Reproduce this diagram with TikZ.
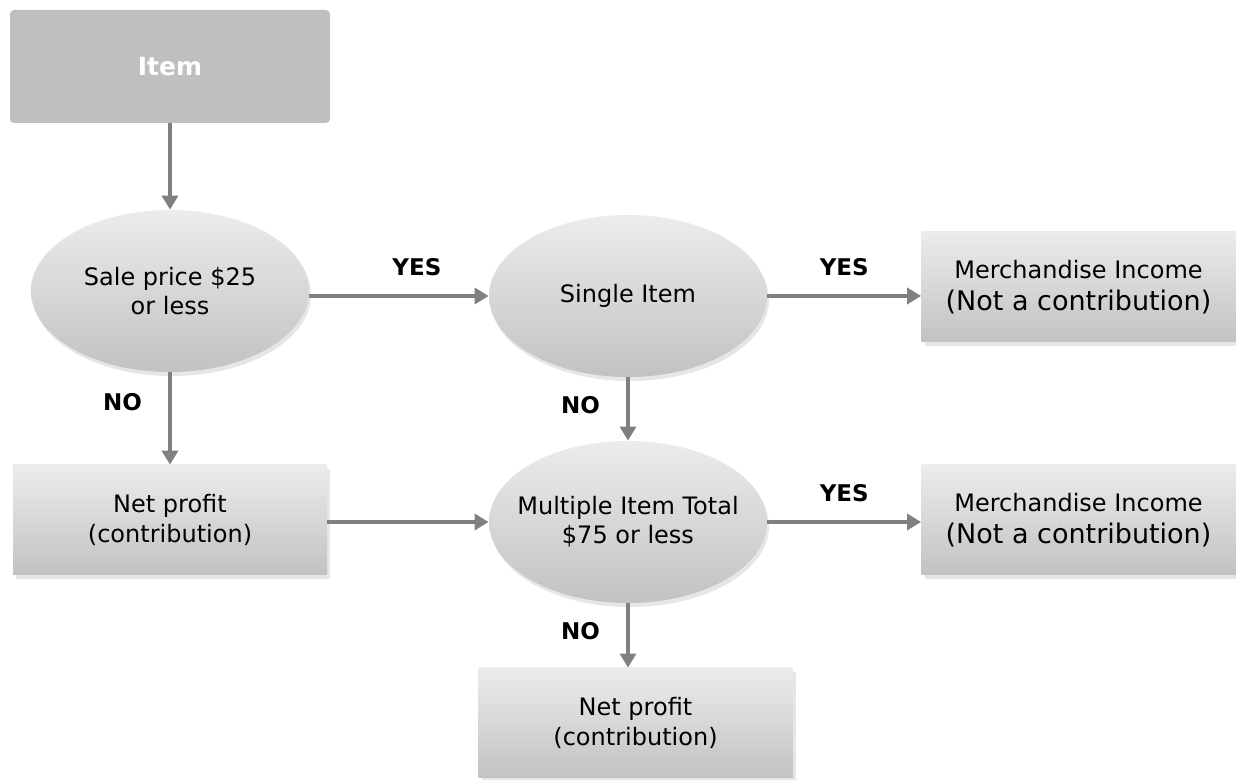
\documentclass[tikz,border=0pt]{standalone}
\usepackage{fontspec}
\setmainfont{DejaVu Sans}
\usepackage{tikz}
\usetikzlibrary{positioning,arrows.meta,shapes.geometric,shadows}
\definecolor{itemgrey}{RGB}{191,191,191}
\definecolor{shadetop}{RGB}{236,236,236}
\definecolor{shadebot}{RGB}{194,194,194}
\definecolor{arrgrey}{RGB}{128,128,128}
\tikzset{
  itembox/.style={fill=itemgrey, rounded corners=2pt, text=white,
                  font=\fontsize{12.5}{14.5}\selectfont\bfseries,
                  minimum width=160pt, minimum height=56.5pt},
  qnode/.style  ={ellipse, top color=shadetop, bottom color=shadebot, align=center,
                  font=\fontsize{12}{14.5}\selectfont, inner xsep=-10pt, inner ysep=0pt,
                  minimum width=139pt, minimum height=81pt,
                  drop shadow={shadow xshift=1pt, shadow yshift=-2pt, opacity=0.2}},
  resbox/.style ={rectangle, top color=shadetop, bottom color=shadebot, align=center,
                  font=\fontsize{12}{15}\selectfont, minimum width=157pt, minimum height=55pt,
                  drop shadow={shadow xshift=1.5pt, shadow yshift=-2pt, opacity=0.2}},
  arr/.style    ={-{Triangle[length=7pt,width=8pt]}, draw=arrgrey, line width=2pt},
  lbl/.style    ={font=\fontsize{11.5}{13}\selectfont\bfseries, inner sep=0pt},
}
\begin{document}
\begin{tikzpicture}[x=0.5pt,y=0.5pt]
\useasboundingbox (0,0) rectangle (1236,780);

% start
\node[itembox] (item) at (170,713.5) {Item};

% questions
\node[qnode] (sale)   at (170,489) {Sale price \$25\\or less};
\node[qnode] (single) at (628,484) {Single Item};
\node[qnode] (multi)  at (628,258) {Multiple Item Total\\\$75 or less};

% outcomes
\node[resbox] (merch1) at (1078.5,493) {Merchandise Income\\[1pt]{\fontsize{13.5}{16}\selectfont (Not a contribution)}};
\node[resbox] (merch2) at (1078.5,260) {Merchandise Income\\[1pt]{\fontsize{13.5}{16}\selectfont (Not a contribution)}};
\node[resbox] (netL)   at (170,260)    {Net profit\\(contribution)};
\node[resbox] (netB)   at (635.5,57)   {Net profit\\(contribution)};

% connectors
\draw[arr] (item.south) -- (sale.north);
\draw[arr] (sale.east |- single.west) -- (single.west)
   node[lbl,pos=0.6,above=9pt] (yes1) {YES};
\draw[arr] (single.east) -- (single.east -| merch1.west)
   node[lbl,midway,above=9pt] (yes2) {YES};
\draw[arr] (sale.south) -- (netL.north)
   node[lbl,pos=0.32,left=13pt] (no1) {NO};
\draw[arr] (single.south) -- (multi.north)
   node[lbl,pos=0.44,left=13pt] (no2) {NO};
\draw[arr] (netL.east |- multi.west) -- (multi.west);
\draw[arr] (multi.east) -- (multi.east -| merch2.west)
   node[lbl,midway,above=9pt] (yes3) {YES};
\draw[arr] (multi.south) -- (multi.south |- netB.north)
   node[lbl,pos=0.43,left=13pt] (no3) {NO};
\end{tikzpicture}
\end{document}
